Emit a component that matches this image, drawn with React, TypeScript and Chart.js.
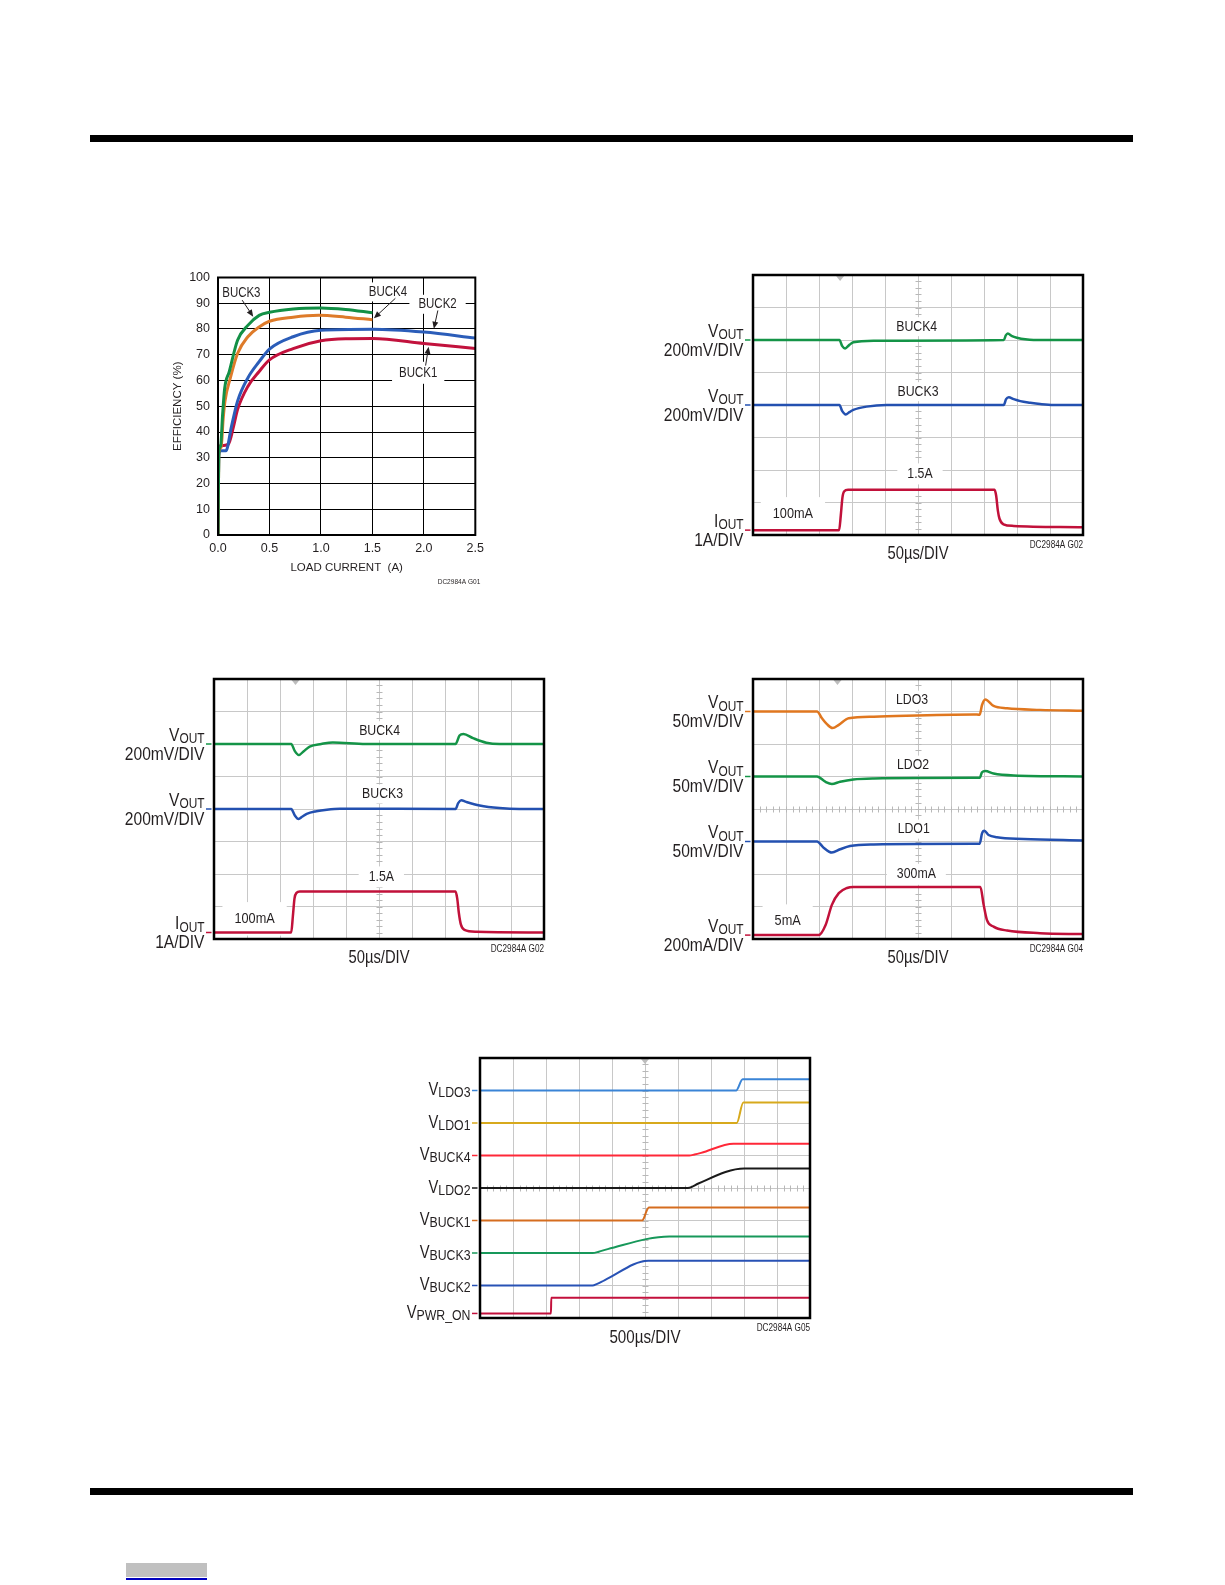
import React, { useEffect, useRef } from 'react';
import { Chart, registerables } from 'chart.js';

Chart.register(...registerables);

const FONT = '"Liberation Sans", Arial, "DejaVu Sans", sans-serif';
const SX = 0.82; // horizontal condensing of annotation text
const INK = '#231f20';
const GRID = '#c8c8c8';
const TICKC = '#b8b8b8';

// ---------------- Efficiency vs load current (G01) ----------------
const effTickX = [0, 0.5, 1.0, 1.5, 2.0, 2.5];
const buck3EffX = [0, 0.008, 0.025, 0.045, 0.065, 0.11, 0.19, 0.29, 0.4, 0.5, 0.73, 1.0, 1.24, 1.5];
const buck3EffY = [0, 32, 34.5, 47, 57, 63.5, 75.6, 81.4, 85.3, 86.5, 87.8, 88.2, 87.6, 86.3];
const buck4EffX = [0, 0.008, 0.03, 0.05, 0.068, 0.12, 0.19, 0.29, 0.4, 0.5, 0.73, 0.98, 1.24, 1.5];
const buck4EffY = [0, 32, 34, 45, 52, 61, 70.5, 77, 80.8, 83, 84.6, 85.3, 84.6, 83.6];
const buck2EffX = [0, 0.008, 0.026, 0.077, 0.13, 0.19, 0.29, 0.4, 0.5, 0.73, 1.0, 1.5, 2.0, 2.5];
const buck2EffY = [0, 31, 32.7, 32.7, 42, 52, 61, 67.3, 72.2, 77, 79.5, 79.9, 78.8, 76.5];
const buck1EffX = [0, 0.005, 0.015, 0.1, 0.15, 0.19, 0.29, 0.4, 0.5, 0.73, 1.0, 1.24, 1.5, 2.0, 2.5];
const buck1EffY = [0, 33, 34.6, 35.2, 42, 48.7, 57.7, 63.5, 68, 72.4, 75.4, 76.2, 76.3, 74.4, 72.4];

// ---------------- Load step, BUCK3/BUCK4 (G02, top right) ----------------
const topBuck4X = [0, 2.62, 2.7, 2.79, 2.92, 3.04, 3.65, 7.6, 7.66, 7.72, 7.85, 8.0, 8.25, 8.5, 10];
const topBuck4Y = [6.0, 6.0, 5.82, 5.74, 5.85, 5.93, 5.98, 6.0, 6.14, 6.2, 6.12, 6.07, 6.02, 6.0, 6.0];
const topBuck3X = [0, 2.62, 2.7, 2.81, 2.92, 3.04, 3.44, 4.05, 7.6, 7.67, 7.75, 7.9, 8.1, 8.4, 8.7, 9.1, 10];
const topBuck3Y = [4.0, 4.0, 3.82, 3.71, 3.78, 3.85, 3.95, 4.0, 4.0, 4.18, 4.24, 4.18, 4.12, 4.07, 4.03, 4.0, 4.0];
const topIoutX = [0, 2.61, 2.66, 2.71, 2.76, 2.88, 7.32, 7.37, 7.42, 7.47, 7.59, 7.9, 10];
const topIoutY = [0.15, 0.15, 0.6, 1.15, 1.34, 1.39, 1.39, 1.2, 0.75, 0.5, 0.33, 0.28, 0.24];

// ---------------- Load step, BUCK3/BUCK4 (G02, middle left) ----------------
const midBuck4X = [0, 2.34, 2.45, 2.57, 2.72, 2.9, 3.25, 3.6, 4.6, 7.32, 7.44, 7.56, 7.85, 8.25, 8.65, 10];
const midBuck4Y = [6.0, 6.0, 5.78, 5.66, 5.78, 5.92, 6.0, 6.05, 6.0, 6.0, 6.26, 6.31, 6.18, 6.04, 6.0, 6.0];
const midBuck3X = [0, 2.34, 2.45, 2.56, 2.68, 2.81, 3.1, 3.42, 3.82, 7.32, 7.4, 7.49, 7.64, 8.05, 8.65, 9.25, 10];
const midBuck3Y = [4.0, 4.0, 3.8, 3.69, 3.77, 3.85, 3.93, 3.98, 4.01, 4.0, 4.18, 4.27, 4.22, 4.11, 4.03, 4.0, 4.0];
const midIoutX = [0, 2.34, 2.39, 2.44, 2.5, 2.6, 7.32, 7.37, 7.42, 7.48, 7.59, 7.95, 10];
const midIoutY = [0.2, 0.2, 0.7, 1.25, 1.42, 1.46, 1.46, 1.25, 0.8, 0.45, 0.28, 0.22, 0.2];

// ---------------- LDO load step (G04) ----------------
const ldo3X = [0, 1.94, 2.09, 2.24, 2.41, 2.6, 2.9, 3.66, 6.69, 6.87, 6.94, 7.04, 7.29, 7.7, 8.7, 10];
const ldo3Y = [7.0, 7.0, 6.79, 6.61, 6.49, 6.59, 6.79, 6.84, 6.91, 6.9, 7.2, 7.37, 7.17, 7.1, 7.05, 7.02];
const ldo2X = [0, 1.94, 2.19, 2.39, 2.64, 3.04, 3.66, 6.69, 6.87, 6.94, 7.04, 7.29, 7.9, 10];
const ldo2Y = [5.0, 5.0, 4.84, 4.77, 4.84, 4.91, 4.94, 4.96, 4.96, 5.13, 5.17, 5.09, 5.03, 5.0];
const ldo1X = [0, 1.94, 2.14, 2.39, 2.64, 2.94, 3.66, 6.69, 6.87, 6.94, 7.01, 7.14, 7.39, 8.2, 10];
const ldo1Y = [3.0, 3.0, 2.81, 2.66, 2.76, 2.86, 2.91, 2.93, 2.93, 3.25, 3.33, 3.2, 3.13, 3.08, 3.03];
const ldoLoadX = [0, 1.99, 2.2, 2.39, 2.6, 2.85, 3.04, 6.89, 6.99, 7.09, 7.29, 7.7, 8.7, 10];
const ldoLoadY = [0.12, 0.12, 0.43, 1.05, 1.41, 1.57, 1.6, 1.6, 1.05, 0.58, 0.38, 0.26, 0.18, 0.15];

// ---------------- Start-up sequence (G05) ----------------
const seqLdo3X = [0, 7.76, 7.96, 10];
const seqLdo3Y = [7.0, 7.0, 7.35, 7.35];
const seqLdo1X = [0, 7.78, 7.98, 10];
const seqLdo1Y = [6.0, 6.0, 6.63, 6.63];
const seqBuck4X = [0, 6.34, 6.5, 6.7, 7.68, 10];
const seqBuck4Y = [5.0, 5.0, 5.03, 5.08, 5.36, 5.36];
const seqLdo2X = [0, 6.3, 6.45, 6.6, 8.01, 10];
const seqLdo2Y = [4.0, 4.0, 4.05, 4.13, 4.6, 4.6];
const seqBuck1X = [0, 4.92, 4.97, 5.05, 5.12, 10];
const seqBuck1Y = [3.0, 3.0, 3.08, 3.3, 3.4, 3.4];
const seqBuck3X = [0, 3.41, 3.6, 3.87, 5.74, 10];
const seqBuck3Y = [2.0, 2.0, 2.04, 2.12, 2.51, 2.51];
const seqBuck2X = [0, 3.41, 3.55, 3.77, 5.1, 10];
const seqBuck2Y = [1.0, 1.0, 1.05, 1.16, 1.76, 1.76];
const seqPwrX = [0, 2.15, 2.16, 10];
const seqPwrY = [0.14, 0.14, 0.62, 0.62];
const seqNames = ['LDO3', 'LDO1', 'BUCK4', 'LDO2', 'BUCK1', 'BUCK3', 'BUCK2', 'PWR_ON'];

type Note = { x: number; y: number; text: string; size: number; padX: number; padY: number };
type Arrow = { x1: number; y1: number; x2: number; y2: number };
type Side = { color: string; main: string; sub: string; scale?: string; level: number };
type Trace = { x: number[]; y: number[]; color: string };
type Deco = {
  frame: number;
  centerV?: boolean;
  centerH?: boolean;
  trigger?: number;
  notes: Note[];
  arrows?: Arrow[];
  side?: Side[];
  seqSide?: boolean;
  footer?: string;
  footerSize?: number;
  corner: string;
  cornerSize: number;
  cornerDy: number;
  cornerDx: number;
};

const pts = (xs: number[], ys: number[]) => xs.map((v, i) => ({ x: v, y: ys[i] }));

function textW(ctx: CanvasRenderingContext2D, text: string, size: number) {
  ctx.font = `${size}px ${FONT}`;
  return ctx.measureText(text).width * SX;
}

function condText(
  ctx: CanvasRenderingContext2D,
  text: string,
  x: number,
  y: number,
  size: number,
  align: CanvasTextAlign,
  baseline: CanvasTextBaseline
) {
  ctx.save();
  ctx.font = `${size}px ${FONT}`;
  ctx.textAlign = align;
  ctx.textBaseline = baseline;
  ctx.fillStyle = INK;
  ctx.translate(x, y);
  ctx.scale(SX, 1);
  ctx.fillText(text, 0, 0);
  ctx.restore();
}

function makeDeco(d: Deco) {
  return {
    id: 'deco',
    beforeDatasetsDraw(chart: any) {
      const { ctx, chartArea: a, scales } = chart;
      const xs = scales.x;
      const ys = scales.y;
      ctx.save();
      ctx.strokeStyle = TICKC;
      ctx.lineWidth = 1;
      if (d.centerV) {
        const cx = Math.round(xs.getPixelForValue(5)) + 0.5;
        for (let k = 1; k < 40; k++) {
          const py = Math.round(ys.getPixelForValue(k * 0.2)) + 0.5;
          ctx.beginPath();
          ctx.moveTo(cx - 3, py);
          ctx.lineTo(cx + 3, py);
          ctx.stroke();
        }
      }
      if (d.centerH) {
        const cy = Math.round(ys.getPixelForValue(4)) + 0.5;
        for (let k = 1; k < 50; k++) {
          const px = Math.round(xs.getPixelForValue(k * 0.2)) + 0.5;
          ctx.beginPath();
          ctx.moveTo(px, cy - 3);
          ctx.lineTo(px, cy + 3);
          ctx.stroke();
        }
      }
      if (d.trigger !== undefined) {
        const tx = xs.getPixelForValue(d.trigger);
        ctx.fillStyle = '#bdbdbd';
        ctx.beginPath();
        ctx.moveTo(tx - 4, a.top + 1);
        ctx.lineTo(tx + 4, a.top + 1);
        ctx.lineTo(tx, a.top + 6);
        ctx.closePath();
        ctx.fill();
      }
      for (const n of d.notes) {
        const w = textW(ctx, n.text, n.size);
        const px = xs.getPixelForValue(n.x);
        const py = ys.getPixelForValue(n.y);
        ctx.fillStyle = '#ffffff';
        ctx.fillRect(px - w / 2 - n.padX, py - n.size / 2 - n.padY, w + 2 * n.padX, n.size + 2 * n.padY);
      }
      ctx.restore();
    },
    afterDatasetsDraw(chart: any) {
      const { ctx, chartArea: a, scales } = chart;
      const xs = scales.x;
      const ys = scales.y;
      for (const n of d.notes) {
        condText(ctx, n.text, xs.getPixelForValue(n.x), ys.getPixelForValue(n.y), n.size, 'center', 'middle');
      }
      ctx.save();
      ctx.strokeStyle = INK;
      ctx.fillStyle = INK;
      ctx.lineWidth = 1;
      for (const ar of d.arrows || []) {
        const x1 = xs.getPixelForValue(ar.x1);
        const y1 = ys.getPixelForValue(ar.y1);
        const x2 = xs.getPixelForValue(ar.x2);
        const y2 = ys.getPixelForValue(ar.y2);
        const ang = Math.atan2(y2 - y1, x2 - x1);
        const c = Math.cos(ang);
        const s = Math.sin(ang);
        const L = 7;
        const W = 3;
        ctx.beginPath();
        ctx.moveTo(x1, y1);
        ctx.lineTo(x2 - L * 0.8 * c, y2 - L * 0.8 * s);
        ctx.stroke();
        ctx.beginPath();
        ctx.moveTo(x2, y2);
        ctx.lineTo(x2 - L * c + W * s, y2 - L * s - W * c);
        ctx.lineTo(x2 - L * c - W * s, y2 - L * s + W * c);
        ctx.closePath();
        ctx.fill();
      }
      ctx.strokeStyle = '#000';
      ctx.lineWidth = d.frame;
      ctx.strokeRect(a.left, a.top, a.right - a.left, a.bottom - a.top);
      ctx.restore();
    },
    afterDraw(chart: any) {
      const { ctx, chartArea: a, scales } = chart;
      const ys = scales.y;
      for (const s of d.side || []) {
        const py = ys.getPixelForValue(s.level);
        ctx.save();
        ctx.strokeStyle = s.color;
        ctx.lineWidth = 1.5;
        ctx.beginPath();
        ctx.moveTo(a.left - 8, py);
        ctx.lineTo(a.left - 2.5, py);
        ctx.stroke();
        ctx.restore();
        const rx = a.left - 9.5;
        const subSize = d.seqSide ? 15 : 14.5;
        const mainSize = d.seqSide ? 18 : 19;
        const mainDy = d.seqSide ? 4.5 : -3.5;
        const subDy = d.seqSide ? 6.5 : -1;
        const sw = textW(ctx, s.sub, subSize);
        condText(ctx, s.sub, rx, py + subDy, subSize, 'right', 'alphabetic');
        condText(ctx, s.main, rx - sw, py + mainDy, mainSize, 'right', 'alphabetic');
        if (s.scale) condText(ctx, s.scale, rx, py + 15.5, 19, 'right', 'alphabetic');
      }
      if (d.footer) {
        condText(ctx, d.footer, (a.left + a.right) / 2, a.bottom + 19.5, d.footerSize || 18, 'center', 'middle');
      }
      condText(ctx, d.corner, a.right + d.cornerDx, a.bottom + d.cornerDy, d.cornerSize, 'right', 'middle');
    },
  };
}

function scopeConfig(traces: Trace[], deco: Deco, padLeft: number, lineWidth: number) {
  return {
    type: 'line',
    data: {
      datasets: traces.map((t) => ({
        data: pts(t.x, t.y),
        borderColor: t.color,
        borderWidth: lineWidth,
        pointRadius: 0,
        fill: false,
        cubicInterpolationMode: 'monotone',
      })),
    },
    options: {
      animation: false,
      responsive: false,
      events: [],
      layout: { padding: { left: padLeft, top: 13, right: 12, bottom: 32 } },
      scales: {
        x: {
          type: 'linear',
          min: 0,
          max: 10,
          ticks: { display: false, stepSize: 1 },
          grid: { color: GRID, lineWidth: 1, drawTicks: false },
          border: { display: false },
        },
        y: {
          type: 'linear',
          min: 0,
          max: 8,
          ticks: { display: false, stepSize: 1 },
          grid: { color: GRID, lineWidth: 1, drawTicks: false },
          border: { display: false },
        },
      },
      plugins: { legend: { display: false }, tooltip: { enabled: false } },
    },
    plugins: [makeDeco(deco)],
  };
}

function effConfig() {
  const series = [
    { x: buck3EffX, y: buck3EffY, color: '#139046' },
    { x: buck4EffX, y: buck4EffY, color: '#de7b2a' },
    { x: buck2EffX, y: buck2EffY, color: '#2b5db9' },
    { x: buck1EffX, y: buck1EffY, color: '#c2123d' },
  ];
  const deco: Deco = {
    frame: 2,
    notes: [
      { x: 0.227, y: 93.8, text: 'BUCK3', size: 14, padX: 4, padY: 2 },
      { x: 1.651, y: 94.4, text: 'BUCK4', size: 14, padX: 5, padY: 2.5 },
      { x: 2.133, y: 89.6, text: 'BUCK2', size: 14, padX: 9, padY: 2.5 },
      { x: 1.945, y: 63.0, text: 'BUCK1', size: 14, padX: 7, padY: 4 },
    ],
    arrows: [
      { x1: 0.235, y1: 91.2, x2: 0.342, y2: 84.8 },
      { x1: 1.723, y1: 91.9, x2: 1.515, y2: 84.2 },
      { x1: 2.136, y1: 87.2, x2: 2.097, y2: 80.1 },
      { x1: 2.017, y1: 65.8, x2: 2.046, y2: 73.1 },
    ],
    corner: 'DC2984A G01',
    cornerSize: 8,
    cornerDy: 47,
    cornerDx: 5,
  };
  const tickFont = { family: FONT, size: 12.5 };
  return {
    type: 'line',
    data: {
      datasets: series.map((s) => ({
        data: pts(s.x, s.y),
        borderColor: s.color,
        borderWidth: 3,
        pointRadius: 0,
        fill: false,
        cubicInterpolationMode: 'monotone',
      })),
    },
    options: {
      animation: false,
      responsive: false,
      events: [],
      layout: { padding: { left: 0, top: 13, right: 13, bottom: 0 } },
      scales: {
        x: {
          type: 'linear',
          min: effTickX[0],
          max: effTickX[effTickX.length - 1],
          ticks: {
            stepSize: 0.5,
            padding: 6,
            color: INK,
            font: tickFont,
            maxRotation: 0,
            autoSkip: false,
            callback: (v: any) => Number(v).toFixed(1),
          },
          grid: { color: '#000', lineWidth: 1, drawTicks: false },
          border: { display: false },
          title: {
            display: true,
            text: 'LOAD CURRENT  (A)',
            color: INK,
            font: { family: FONT, size: 11.5 },
            padding: { top: 0, bottom: 17 },
          },
          afterFit: (s: any) => {
            s.height = 57;
          },
        },
        y: {
          type: 'linear',
          min: 0,
          max: 100,
          ticks: { stepSize: 10, padding: 8, color: INK, font: tickFont },
          grid: { color: '#000', lineWidth: 1, drawTicks: false },
          border: { display: false },
          title: {
            display: true,
            text: 'EFFICIENCY (%)',
            color: INK,
            font: { family: FONT, size: 11.5 },
            padding: { top: 10.5, bottom: 0 },
          },
          afterFit: (s: any) => {
            s.width = 58;
          },
        },
      },
      plugins: { legend: { display: false }, tooltip: { enabled: false } },
    },
    plugins: [makeDeco(deco)],
  };
}

const GREEN = '#149447';
const BLUE = '#2350b0';
const RED = '#c1113a';
const ORANGE = '#e0771f';

function topConfig() {
  const deco: Deco = {
    frame: 2.5,
    centerV: true,
    trigger: 2.64,
    notes: [
      { x: 4.96, y: 6.41, text: 'BUCK4', size: 15, padX: 6, padY: 2 },
      { x: 5.0, y: 4.41, text: 'BUCK3', size: 15, padX: 6, padY: 2 },
      { x: 5.06, y: 1.88, text: '1.5A', size: 15, padX: 10, padY: 3 },
      { x: 1.21, y: 0.65, text: '100mA', size: 15.5, padX: 12, padY: 9 },
    ],
    side: [
      { color: GREEN, main: 'V', sub: 'OUT', scale: '200mV/DIV', level: topBuck4Y[0] },
      { color: BLUE, main: 'V', sub: 'OUT', scale: '200mV/DIV', level: topBuck3Y[0] },
      { color: RED, main: 'I', sub: 'OUT', scale: '1A/DIV', level: topIoutY[0] },
    ],
    footer: '50µs/DIV',
    corner: 'DC2984A G02',
    cornerSize: 10,
    cornerDy: 10.5,
    cornerDx: 0,
  };
  return scopeConfig(
    [
      { x: topBuck4X, y: topBuck4Y, color: GREEN },
      { x: topBuck3X, y: topBuck3Y, color: BLUE },
      { x: topIoutX, y: topIoutY, color: RED },
    ],
    deco,
    123,
    2.5
  );
}

function midConfig() {
  const deco: Deco = {
    frame: 2.5,
    centerV: true,
    trigger: 2.47,
    notes: [
      { x: 5.02, y: 6.41, text: 'BUCK4', size: 15, padX: 6, padY: 2 },
      { x: 5.11, y: 4.46, text: 'BUCK3', size: 15, padX: 6, padY: 2 },
      { x: 5.07, y: 1.91, text: '1.5A', size: 15, padX: 10, padY: 3 },
      { x: 1.23, y: 0.62, text: '100mA', size: 15.5, padX: 12, padY: 9 },
    ],
    side: [
      { color: GREEN, main: 'V', sub: 'OUT', scale: '200mV/DIV', level: midBuck4Y[0] },
      { color: BLUE, main: 'V', sub: 'OUT', scale: '200mV/DIV', level: midBuck3Y[0] },
      { color: RED, main: 'I', sub: 'OUT', scale: '1A/DIV', level: midIoutY[0] },
    ],
    footer: '50µs/DIV',
    corner: 'DC2984A G02',
    cornerSize: 10,
    cornerDy: 10.5,
    cornerDx: 0,
  };
  return scopeConfig(
    [
      { x: midBuck4X, y: midBuck4Y, color: GREEN },
      { x: midBuck3X, y: midBuck3Y, color: BLUE },
      { x: midIoutX, y: midIoutY, color: RED },
    ],
    deco,
    114,
    2.5
  );
}

function ldoConfig() {
  const deco: Deco = {
    frame: 2.5,
    centerV: true,
    centerH: true,
    trigger: 2.56,
    notes: [
      { x: 4.82, y: 7.35, text: 'LDO3', size: 15, padX: 6, padY: 2 },
      { x: 4.85, y: 5.35, text: 'LDO2', size: 15, padX: 6, padY: 2 },
      { x: 4.87, y: 3.38, text: 'LDO1', size: 15, padX: 6, padY: 2 },
      { x: 4.95, y: 1.99, text: '300mA', size: 15, padX: 10, padY: 3 },
      { x: 1.05, y: 0.55, text: '5mA', size: 15.5, padX: 12, padY: 9 },
    ],
    side: [
      { color: ORANGE, main: 'V', sub: 'OUT', scale: '50mV/DIV', level: ldo3Y[0] },
      { color: GREEN, main: 'V', sub: 'OUT', scale: '50mV/DIV', level: ldo2Y[0] },
      { color: BLUE, main: 'V', sub: 'OUT', scale: '50mV/DIV', level: ldo1Y[0] },
      { color: RED, main: 'V', sub: 'OUT', scale: '200mA/DIV', level: ldoLoadY[0] },
    ],
    footer: '50µs/DIV',
    corner: 'DC2984A G04',
    cornerSize: 10,
    cornerDy: 10.5,
    cornerDx: 0,
  };
  return scopeConfig(
    [
      { x: ldo3X, y: ldo3Y, color: ORANGE },
      { x: ldo2X, y: ldo2Y, color: GREEN },
      { x: ldo1X, y: ldo1Y, color: BLUE },
      { x: ldoLoadX, y: ldoLoadY, color: RED },
    ],
    deco,
    123,
    2.5
  );
}

function seqConfig() {
  const traces: Trace[] = [
    { x: seqLdo3X, y: seqLdo3Y, color: '#3a84d6' },
    { x: seqLdo1X, y: seqLdo1Y, color: '#d7a91c' },
    { x: seqBuck4X, y: seqBuck4Y, color: '#ff2838' },
    { x: seqLdo2X, y: seqLdo2Y, color: '#1a1a1a' },
    { x: seqBuck1X, y: seqBuck1Y, color: '#d56d1f' },
    { x: seqBuck3X, y: seqBuck3Y, color: '#17985a' },
    { x: seqBuck2X, y: seqBuck2Y, color: '#2852b5' },
    { x: seqPwrX, y: seqPwrY, color: '#c3103c' },
  ];
  const deco: Deco = {
    frame: 2.5,
    centerV: true,
    centerH: true,
    trigger: 5,
    notes: [],
    side: traces.map((t, i) => ({ color: t.color, main: 'V', sub: seqNames[i], level: t.y[0] })),
    seqSide: true,
    footer: '500µs/DIV',
    footerSize: 18.5,
    corner: 'DC2984A G05',
    cornerSize: 10,
    cornerDy: 10,
    cornerDx: 0,
  };
  return scopeConfig(traces, deco, 90, 2);
}

function ChartBox(props: { left: number; top: number; width: number; height: number; build: () => any }) {
  const ref = useRef<HTMLCanvasElement>(null);
  useEffect(() => {
    const chart = new Chart(ref.current as HTMLCanvasElement, props.build());
    return () => chart.destroy();
  }, []);
  return (
    <canvas
      ref={ref}
      width={props.width}
      height={props.height}
      style={{ position: 'absolute', left: props.left, top: props.top, width: props.width, height: props.height }}
    />
  );
}

export default function App() {
  return (
    <div
      style={{
        position: 'absolute',
        left: 0,
        top: 0,
        width: 1225,
        height: 1585,
        background: '#ffffff',
        overflow: 'hidden',
      }}
    >
      <div style={{ position: 'absolute', left: 90, top: 135, width: 1043, height: 7, background: '#000' }} />
      <ChartBox left={160} top={262} width={330} height={330} build={effConfig} />
      <ChartBox left={630} top={262} width={465} height={305} build={topConfig} />
      <ChartBox left={100} top={666} width={456} height={305} build={midConfig} />
      <ChartBox left={630} top={666} width={465} height={305} build={ldoConfig} />
      <ChartBox left={390} top={1045} width={432} height={305} build={seqConfig} />
      <div style={{ position: 'absolute', left: 90, top: 1488, width: 1043, height: 7, background: '#000' }} />
      <div style={{ position: 'absolute', left: 126, top: 1563, width: 81, height: 14, background: '#c0c0c0' }} />
      <div style={{ position: 'absolute', left: 126, top: 1578, width: 81, height: 1.5, background: '#0000c0' }} />
    </div>
  );
}
